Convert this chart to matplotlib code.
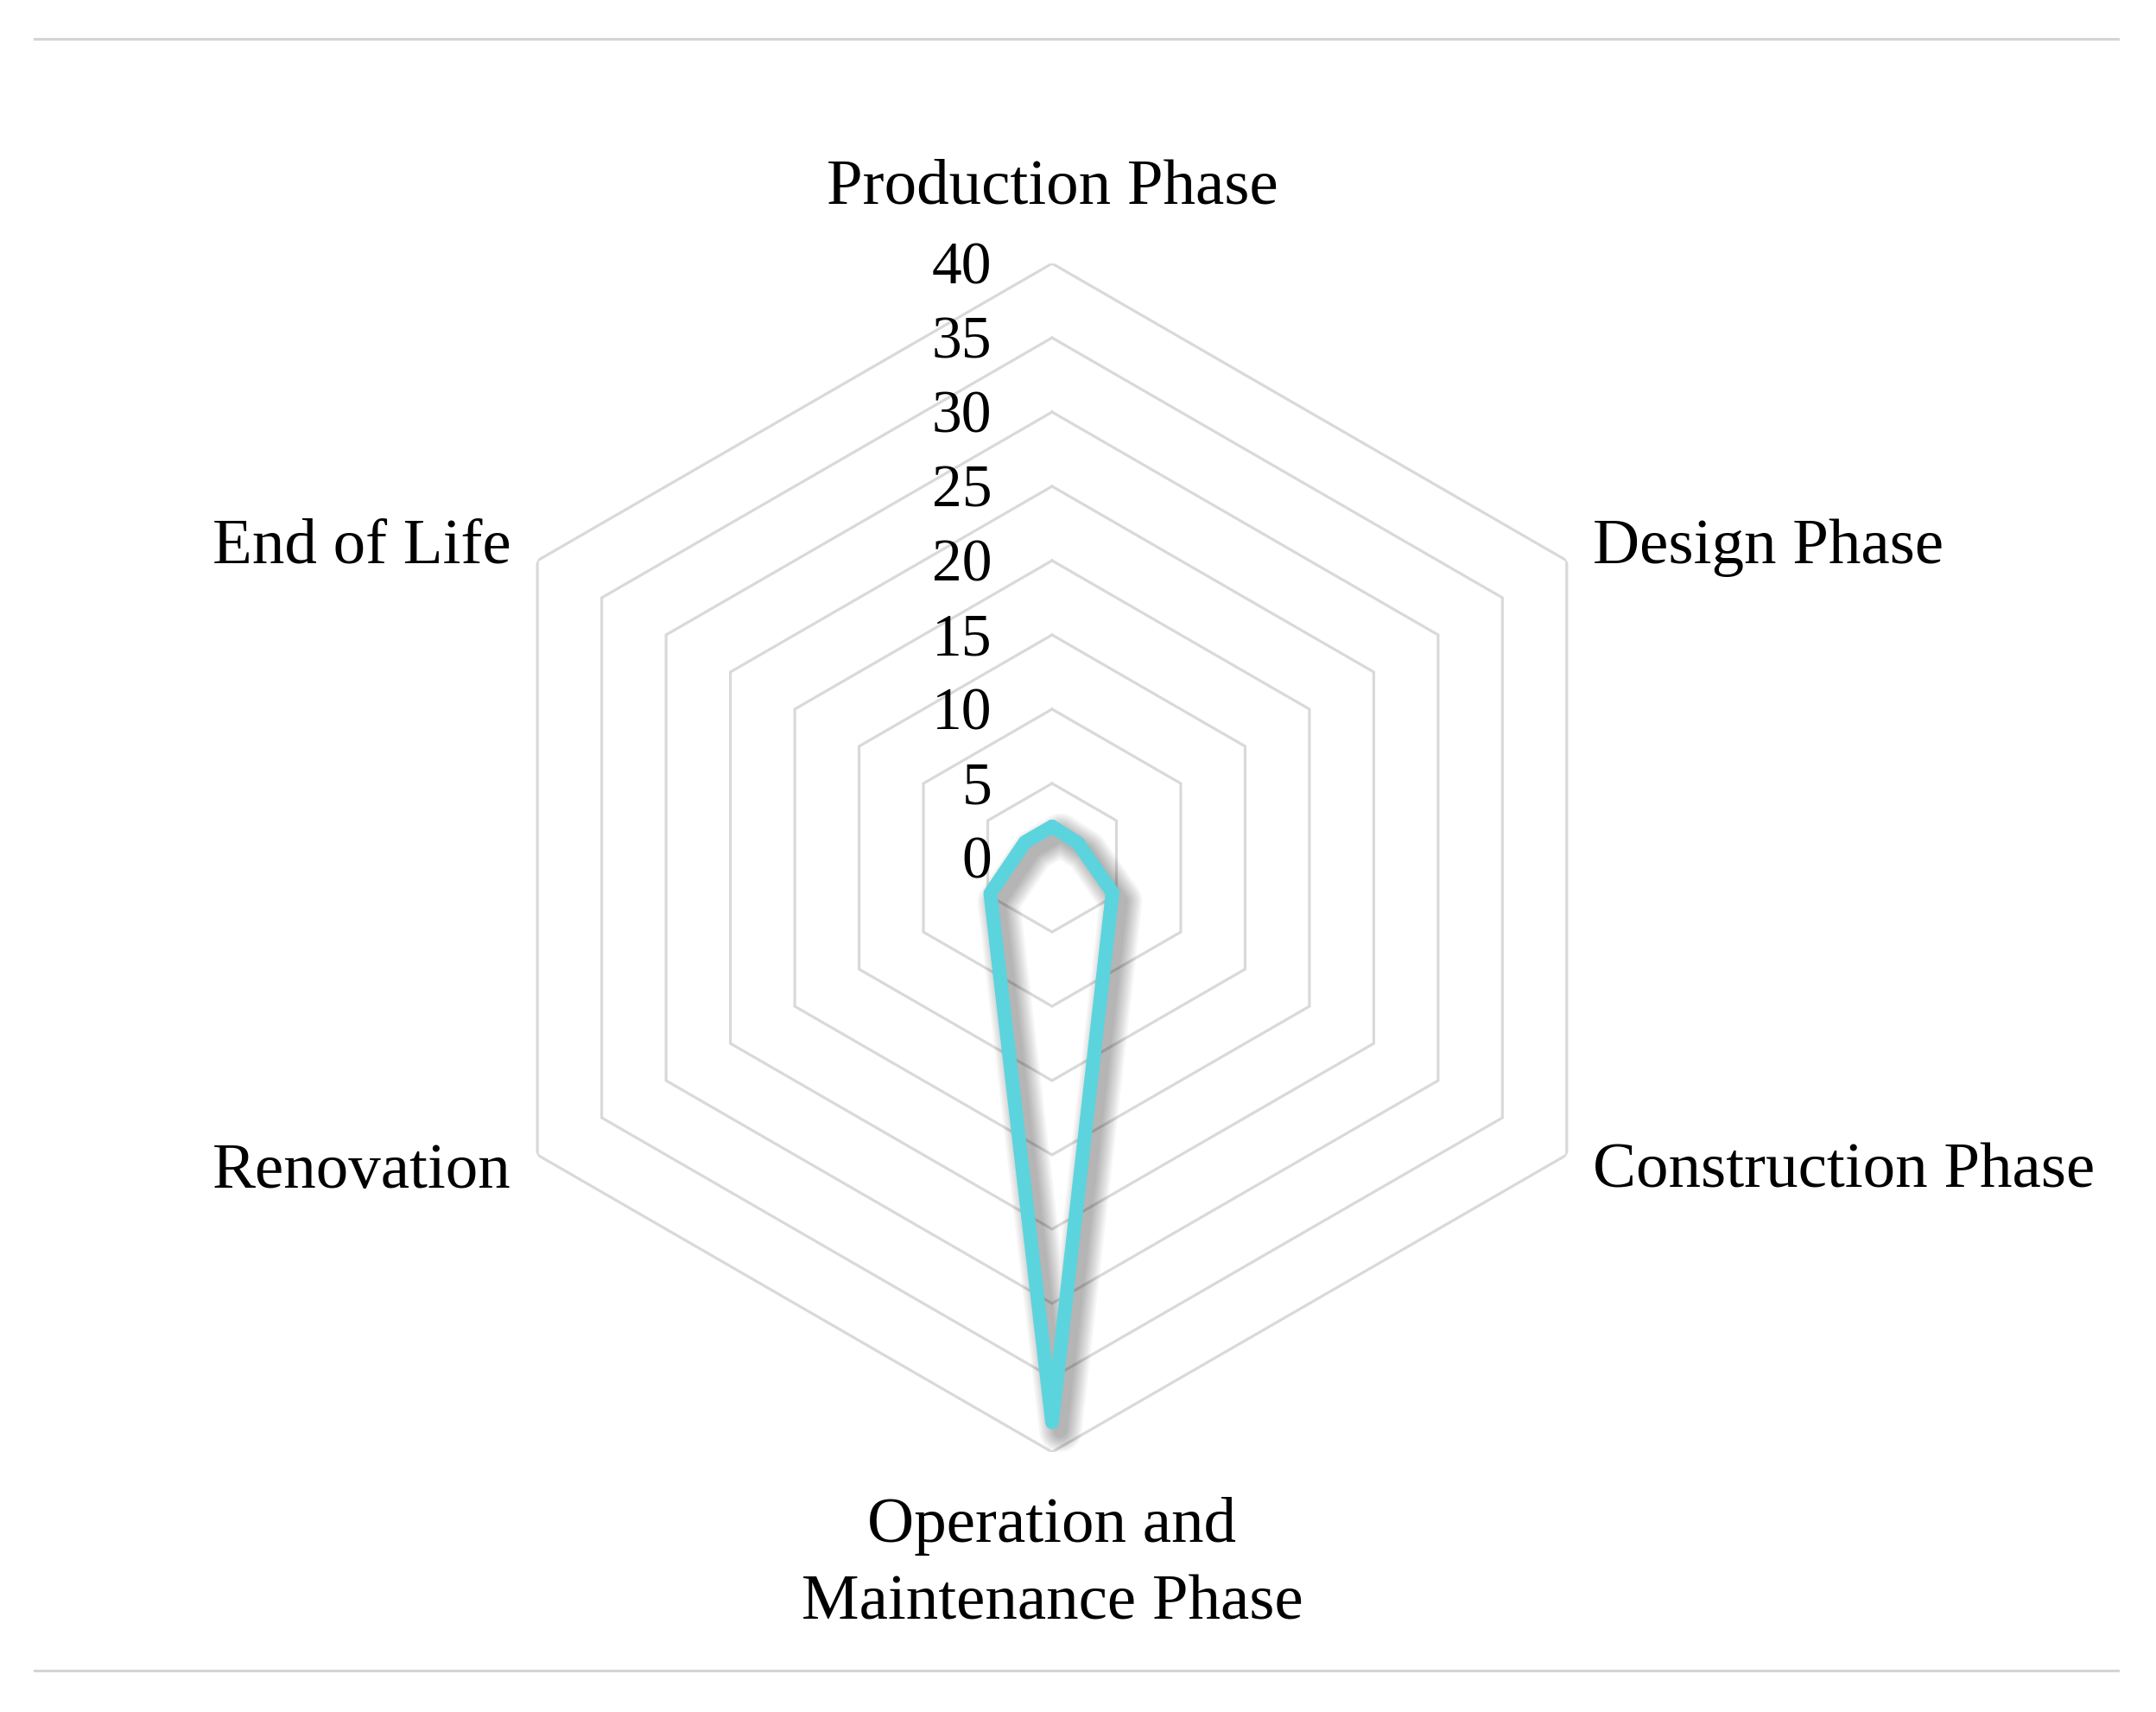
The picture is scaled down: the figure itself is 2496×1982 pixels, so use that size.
import numpy as np
import matplotlib
matplotlib.use("Agg")
import matplotlib.pyplot as plt
import matplotlib.patheffects as pe
from matplotlib.transforms import offset_copy
from matplotlib.lines import Line2D

categories = ["Production Phase", "Design Phase", "Construction Phase",
              "Operation and\nMaintenance Phase", "Renovation", "End of Life"]
values = [2.1, 2.0, 4.7, 38.0, 4.8, 2.1]
ring_levels = [5, 10, 15, 20, 25, 30, 35, 40]
tick_labels = ["0", "5", "10", "15", "20", "25", "30", "35", "40"]
tick_values = [0, 5, 10, 15, 20, 25, 30, 35, 40]

FONT = "Liberation Serif"
W, H = 2496, 1982
DPI = 100
fig = plt.figure(figsize=(W / DPI, H / DPI), dpi=DPI)

cx, cy, R = 1218, 993, 688
ax = fig.add_axes([(cx - R) / W, (H - cy - R) / H, 2 * R / W, 2 * R / H], projection="polar")
ax.set_theta_zero_location("N")
ax.set_theta_direction(-1)
ax.set_ylim(0, 40)
ax.grid(False)
ax.spines["polar"].set_visible(False)
ax.set_xticks([])
ax.set_yticks([])
ax.patch.set_alpha(0)

n = len(categories)
angles = np.linspace(0, 2 * np.pi, n, endpoint=False)
ang_closed = np.append(angles, angles[0])

for lv in ring_levels:
    ax.plot(ang_closed, [lv] * (n + 1), color="#D9D9D9", lw=2.3, zorder=1,
            solid_joinstyle="miter")

# tick labels on the top spoke
for tv, tl in zip(tick_values, tick_labels):
    tr = offset_copy(ax.transData, fig=fig, x=-50, y=-17, units="points")
    ax.text(0, tv, tl, transform=tr, ha="right", va="baseline",
            fontsize=50, family=FONT, color="black", zorder=5)

# category labels
offsets = [(0, 50, "center"), (22, -2, "left"), (22, -27, "left"),
           (0, -139, "center"), (-22, -27, "right"), (-22, -2, "right")]
for a, lab, (dx, dy, ha) in zip(angles, categories, offsets):
    tr = offset_copy(ax.transData, fig=fig, x=dx, y=dy, units="points")
    ax.text(a, 40, lab, transform=tr, ha=ha, va="baseline", fontsize=54,
            family=FONT, color="black", linespacing=1.42, multialignment="center")

vals_closed = values + [values[0]]
lw = 11.5
shadow = [pe.Stroke(offset=(7, -7), linewidth=lw + k, foreground="black", alpha=0.035)
          for k in range(0, 26, 3)]
ax.plot(ang_closed, vals_closed, color="#5CD4DD", lw=lw, zorder=4,
        solid_joinstyle="round", solid_capstyle="round",
        path_effects=shadow + [pe.Normal()])

for yy in (45, 1934):
    fig.add_artist(Line2D([40 / W, 2452 / W], [1 - yy / H, 1 - yy / H],
                          transform=fig.transFigure, color="#D4D4D4", lw=2.2))

fig.savefig("out.png", dpi=DPI)
